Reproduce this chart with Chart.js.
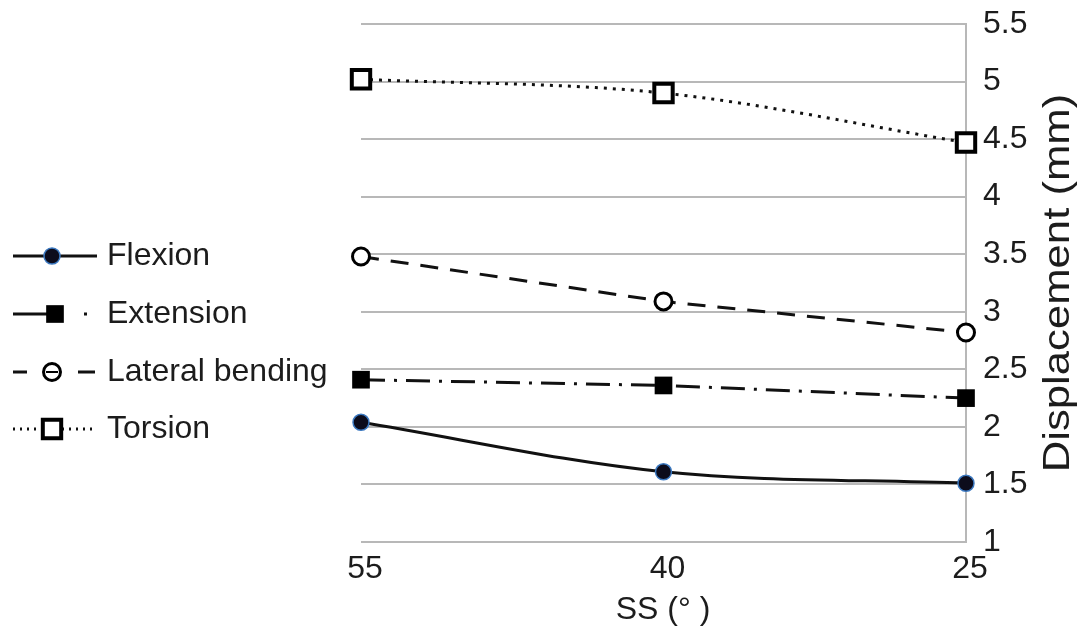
<!DOCTYPE html>
<html><head><meta charset="utf-8">
<script src="https://cdn.jsdelivr.net/npm/chart.js@4/dist/chart.umd.min.js"></script>
<style>html,body{margin:0;padding:0;background:#fff;overflow:hidden}#wrap{width:1087px;height:642px;position:relative}</style>
</head><body><div id="wrap"><canvas id="c" width="1087" height="642"></canvas></div>
<script>
// ---- data ----
const categories = ['55', '40', '25'];
const flexion = [2.04, 1.61, 1.51];
const extension = [2.41, 2.36, 2.25];
const lateralBending = [3.48, 3.09, 2.82];
const torsion = [5.02, 4.90, 4.47];
const seriesNames = ['Flexion', 'Extension', 'Lateral bending', 'Torsion'];
const yTicks = [1, 1.5, 2, 2.5, 3, 3.5, 4, 4.5, 5, 5.5];
const xTitle = 'SS (° )';
const yTitle = 'Displacement (mm)';

const FONT = '"Liberation Sans", Arial, sans-serif';
const TXT = '#1c1c1c';
const GRID = '#b8b8b8';

const legendDash = [[], [47, 24, 3, 200], [14, 51, 17, 200], [2, 5]];

const decoPlugin = {
  id: 'deco',
  afterDraw(chart) {
    const ctx = chart.ctx;
    ctx.save();
    ctx.fillStyle = TXT;
    ctx.font = '32px ' + FONT;
    // x title
    ctx.textAlign = 'center';
    ctx.textBaseline = 'middle';
    ctx.fillText(xTitle, 663, 610);
    // y title
    ctx.save();
    ctx.translate(1059, 283);
    ctx.rotate(-Math.PI / 2);
    ctx.scale(1.18, 1);
    ctx.font = '37px ' + FONT;
    ctx.fillText(yTitle, 0, 0);
    ctx.restore();
    // legend
    const ys = [256, 314, 372, 429];
    chart.data.datasets.forEach((ds, i) => {
      const y = ys[i];
      ctx.save();
      ctx.strokeStyle = ds.borderColor;
      ctx.lineWidth = 3;
      ctx.setLineDash(legendDash[i]);
      ctx.beginPath();
      ctx.moveTo(13, y);
      ctx.lineTo(97, y);
      ctx.stroke();
      ctx.restore();
      const mx = i === 1 ? 55 : 52;
      ctx.save();
      ctx.fillStyle = ds.pointBackgroundColor;
      ctx.strokeStyle = ds.pointBorderColor;
      ctx.lineWidth = ds.pointBorderWidth;
      ctx.setLineDash([]);
      ctx.beginPath();
      if (ds.pointStyle === 'rect') {
        const r = ds.pointRadius;
        ctx.rect(mx - r * 0.707, y - r * 0.707, r * 1.414, r * 1.414);
      } else {
        ctx.arc(mx, y, ds.pointRadius, 0, Math.PI * 2);
      }
      ctx.fill();
      if (ds.pointBorderWidth > 0) ctx.stroke();
      if (i === 2) { ctx.beginPath(); ctx.moveTo(mx - 6, y); ctx.lineTo(mx + 6, y); ctx.lineWidth = 2; ctx.stroke(); }
      ctx.restore();
      ctx.fillStyle = TXT;
      ctx.textAlign = 'left';
      ctx.textBaseline = 'middle';
      ctx.font = '32px ' + FONT;
      ctx.fillText(seriesNames[i], 107, y);
    });
    ctx.restore();
  }
};

new Chart(document.getElementById('c'), {
  type: 'line',
  data: {
    labels: categories,
    datasets: [
      { label: seriesNames[0], data: flexion, borderColor: '#111', borderWidth: 3,
        cubicInterpolationMode: 'monotone',
        pointStyle: 'circle', pointRadius: 8, pointBackgroundColor: '#0c0c1c',
        pointBorderColor: '#3b78c0', pointBorderWidth: 1.5, clip: false },
      { label: seriesNames[1], data: extension, borderColor: '#111', borderWidth: 3,
        borderDash: [24, 9, 3, 9], tension: 0,
        pointStyle: 'rect', pointRadius: 12.5, pointBackgroundColor: '#000',
        pointBorderColor: '#000', pointBorderWidth: 0, clip: false },
      { label: seriesNames[2], data: lateralBending, borderColor: '#111', borderWidth: 3,
        borderDash: [18, 12], tension: 0,
        pointStyle: 'circle', pointRadius: 8.5, pointBackgroundColor: '#fff',
        pointBorderColor: '#000', pointBorderWidth: 3, clip: false },
      { label: seriesNames[3], data: torsion, borderColor: '#111', borderWidth: 3,
        borderDash: [3, 6], cubicInterpolationMode: 'monotone',
        pointStyle: 'rect', pointRadius: 13, pointBackgroundColor: '#fff',
        pointBorderColor: '#000', pointBorderWidth: 4, clip: false }
    ]
  },
  options: {
    responsive: false,
    animation: false,
    devicePixelRatio: 1,
    layout: { padding: { left: 361, top: 24, right: 0, bottom: 0 } },
    plugins: { legend: { display: false }, tooltip: { enabled: false } },
    scales: {
      x: {
        type: 'category',
        offset: false,
        grid: { display: false, drawTicks: false },
        border: { display: false },
        ticks: { color: TXT, font: { family: FONT, size: 32 }, padding: 8, labelOffset: 4, maxRotation: 0 },
        afterFit(s) { s.height = 100; s.paddingLeft = 0; s.paddingRight = 0; }
      },
      y: {
        position: 'right',
        min: 1, max: 5.5,
        afterBuildTicks(s) { s.ticks = yTicks.map(v => ({ value: v })); },
        grid: { color: GRID, lineWidth: 2, drawTicks: false },
        border: { display: true, color: GRID, width: 2 },
        ticks: { color: TXT, font: { family: FONT, size: 32 }, padding: 17,
          callback: v => String(v) },
        afterFit(s) { s.width = 121; s.paddingTop = 0; s.paddingBottom = 0; }
      }
    }
  },
  plugins: [decoPlugin]
});
</script></body></html>
